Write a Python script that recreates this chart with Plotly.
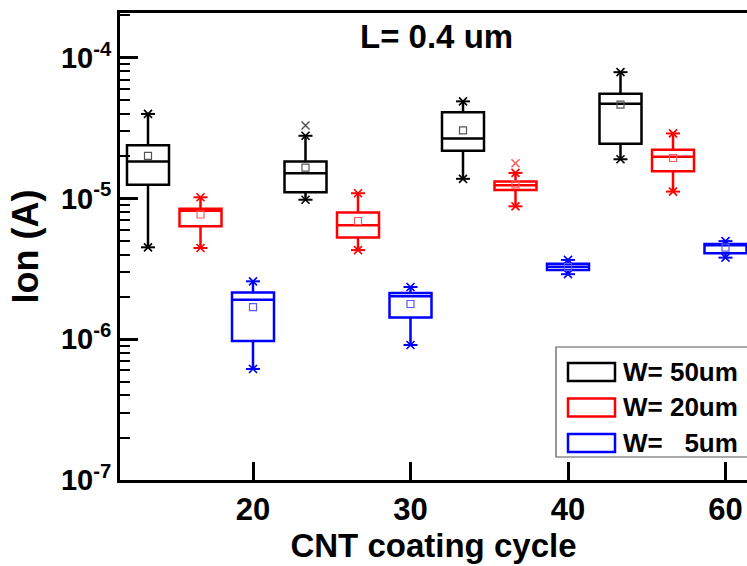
import plotly.graph_objects as go

# ---------------- data ----------------
categories = ["20", "30", "40", "60"]          # CNT coating cycle
series_names = ["W= 50um", "W= 20um", "W=\u00a0\u00a0\u00a05um"]

w50_upper  = [3.99e-5, 2.79e-5, 4.90e-5, 7.90e-5]
w50_q3     = [2.39e-5, 1.83e-5, 4.10e-5, 5.55e-5]
w50_median = [1.83e-5, 1.51e-5, 2.67e-5, 4.72e-5]
w50_q1     = [1.25e-5, 1.11e-5, 2.18e-5, 2.45e-5]
w50_lower  = [4.50e-6, 9.80e-6, 1.38e-5, 1.90e-5]
w50_mean   = [2.01e-5, 1.66e-5, 3.05e-5, 4.65e-5]
w50_extra  = [None, 3.30e-5, None, None]

w20_upper  = [1.02e-5, 1.09e-5, 1.52e-5, 2.90e-5]
w20_q3     = [8.45e-6, 7.96e-6, 1.32e-5, 2.22e-5]
w20_median = [8.20e-6, 6.46e-6, 1.24e-5, 1.98e-5]
w20_q1     = [6.35e-6, 5.28e-6, 1.15e-5, 1.56e-5]
w20_lower  = [4.45e-6, 4.30e-6, 8.80e-6, 1.12e-5]
w20_mean   = [7.70e-6, 6.92e-6, 1.26e-5, 1.94e-5]
w20_extra  = [None, None, 1.78e-5, None]

w5_upper   = [2.58e-6, 2.35e-6, 3.66e-6, 4.98e-6]
w5_q3      = [2.15e-6, 2.13e-6, 3.44e-6, 4.76e-6]
w5_median  = [1.91e-6, 2.02e-6, 3.27e-6, 4.65e-6]
w5_q1      = [9.70e-7, 1.43e-6, 3.10e-6, 4.08e-6]
w5_lower   = [6.15e-7, 9.10e-7, 2.90e-6, 3.80e-6]
w5_mean    = [1.69e-6, 1.78e-6, 3.27e-6, 4.47e-6]
w5_extra   = [None, None, None, None]

y_tick_vals = [1e-7, 1e-6, 1e-5, 1e-4]
y_tick_text = ["10<sup>-7</sup>", "10<sup>-6</sup>", "10<sup>-5</sup>", "10<sup>-4</sup>"]

# ---------------- styling / layout ----------------
W, H = 747, 566
L_PX, R_PX, T_PX, B_PX = 120, 747, 13, 480
colors = ["#000000", "#ff0000", "#0000ff"]
light = ["#555555", "#ff5a5a", "#5a5aff"]
FONT = "Liberation Sans, Arial, sans-serif"

series = [
    (w50_upper, w50_q3, w50_median, w50_q1, w50_lower, w50_mean, w50_extra),
    (w20_upper, w20_q3, w20_median, w20_q1, w20_lower, w20_mean, w20_extra),
    (w5_upper, w5_q3, w5_median, w5_q1, w5_lower, w5_mean, w5_extra),
]
n_series = len(series)

fig = go.Figure()
for s, (up, q3, med, q1, lo, mean, extra) in enumerate(series):
    xs = [g * n_series + s for g in range(len(categories))]
    c = colors[s]
    fig.add_trace(go.Box(
        x=xs, q1=q1, median=med, q3=q3, lowerfence=lo, upperfence=up,
        width=0.8, whiskerwidth=0, boxpoints=False,
        line=dict(color=c, width=2.5), fillcolor="rgba(0,0,0,0)",
        name=series_names[s], showlegend=False, hoverinfo="skip",
    ))
    # whisker-end markers (x + dash)
    fig.add_trace(go.Scatter(
        x=xs + xs, y=up + lo, mode="markers", showlegend=False, hoverinfo="skip",
        marker=dict(symbol="x-thin", size=8, line=dict(color=c, width=1.6)),
    ))
    fig.add_trace(go.Scatter(
        x=xs + xs, y=up + lo, mode="markers", showlegend=False, hoverinfo="skip",
        marker=dict(symbol="line-ew", size=10, line=dict(color=c, width=2)),
    ))
    # extra points (x)
    ex_x = [x for x, v in zip(xs, extra) if v is not None]
    ex_y = [v for v in extra if v is not None]
    if ex_x:
        fig.add_trace(go.Scatter(
            x=ex_x, y=ex_y, mode="markers", showlegend=False, hoverinfo="skip",
            marker=dict(symbol="x-thin", size=8, line=dict(color=light[s], width=1.5)),
        ))
    # mean markers
    fig.add_trace(go.Scatter(
        x=xs, y=mean, mode="markers", showlegend=False, hoverinfo="skip",
        marker=dict(symbol="square-open", size=7, color=light[s], line=dict(width=1.2)),
    ))

unit_px = 52.5
first_px = 148
x_range = [(L_PX - first_px) / unit_px, (R_PX - first_px) / unit_px]
tick_pos = [g * n_series + (n_series - 1) for g in range(len(categories))]


def px_x(p):
    return (p - L_PX) / (R_PX - L_PX)


def px_y(p):
    return (B_PX - p) / (B_PX - T_PX)


# manual legend box
shapes = [dict(type="rect", xref="paper", yref="paper",
               x0=px_x(556), x1=px_x(800), y0=px_y(457), y1=px_y(347),
               line=dict(color="#555555", width=1.2), fillcolor="white", layer="above")]
annotations = []
row_centers = [372, 407.5, 443]
for s in range(n_series):
    yc = row_centers[s]
    shapes.append(dict(type="rect", xref="paper", yref="paper",
                       x0=px_x(568), x1=px_x(615), y0=px_y(yc + 9), y1=px_y(yc - 9),
                       line=dict(color=colors[s], width=2.5), layer="above"))
    annotations.append(dict(text=series_names[s], xref="paper", yref="paper",
                            x=px_x(621), y=px_y(yc), xanchor="left", yanchor="middle",
                            showarrow=False,
                            font=dict(family=FONT, size=26, color="black", weight="bold")))

annotations.append(dict(text="L= 0.4 um", xref="paper", yref="paper",
                        x=px_x(436), y=px_y(36), xanchor="center", yanchor="middle",
                        showarrow=False,
                        font=dict(family=FONT, size=33, color="black", weight="bold")))

fig.update_layout(
    width=W, height=H,
    margin=dict(l=L_PX, r=W - R_PX, t=T_PX, b=H - B_PX, pad=0),
    paper_bgcolor="white", plot_bgcolor="white",
    showlegend=False,
    boxmode="overlay",
    shapes=shapes, annotations=annotations,
    font=dict(family=FONT, color="black"),
    xaxis=dict(
        range=x_range, tickvals=tick_pos, ticktext=categories,
        ticks="inside", ticklen=18, tickwidth=2.5, tickcolor="black",
        showline=True, linewidth=3, linecolor="black", mirror=True,
        showgrid=False, zeroline=False, automargin=False,
        tickfont=dict(family=FONT, size=31, weight="bold"),
        title=dict(text="CNT coating cycle", standoff=2,
                   font=dict(family=FONT, size=33, weight="bold")),
    ),
    yaxis=dict(
        type="log", range=[-7, -3.682],
        tickvals=y_tick_vals, ticktext=y_tick_text,
        ticks="inside", ticklen=18, tickwidth=2.5, tickcolor="black",
        minor=dict(ticks="inside", ticklen=10, tickwidth=2, tickcolor="black",
                   dtick="D1", showgrid=False),
        showline=True, linewidth=3, linecolor="black", mirror=False,
        showgrid=False, zeroline=False, automargin=False,
        tickfont=dict(family=FONT, size=29, weight="bold"),
        title=dict(text="Ion (A)", standoff=12,
                   font=dict(family=FONT, size=36, weight="bold")),
    ),
)

fig.write_html("out.html", config={"displayModeBar": False},
               post_script="document.body.style.margin='0';")
